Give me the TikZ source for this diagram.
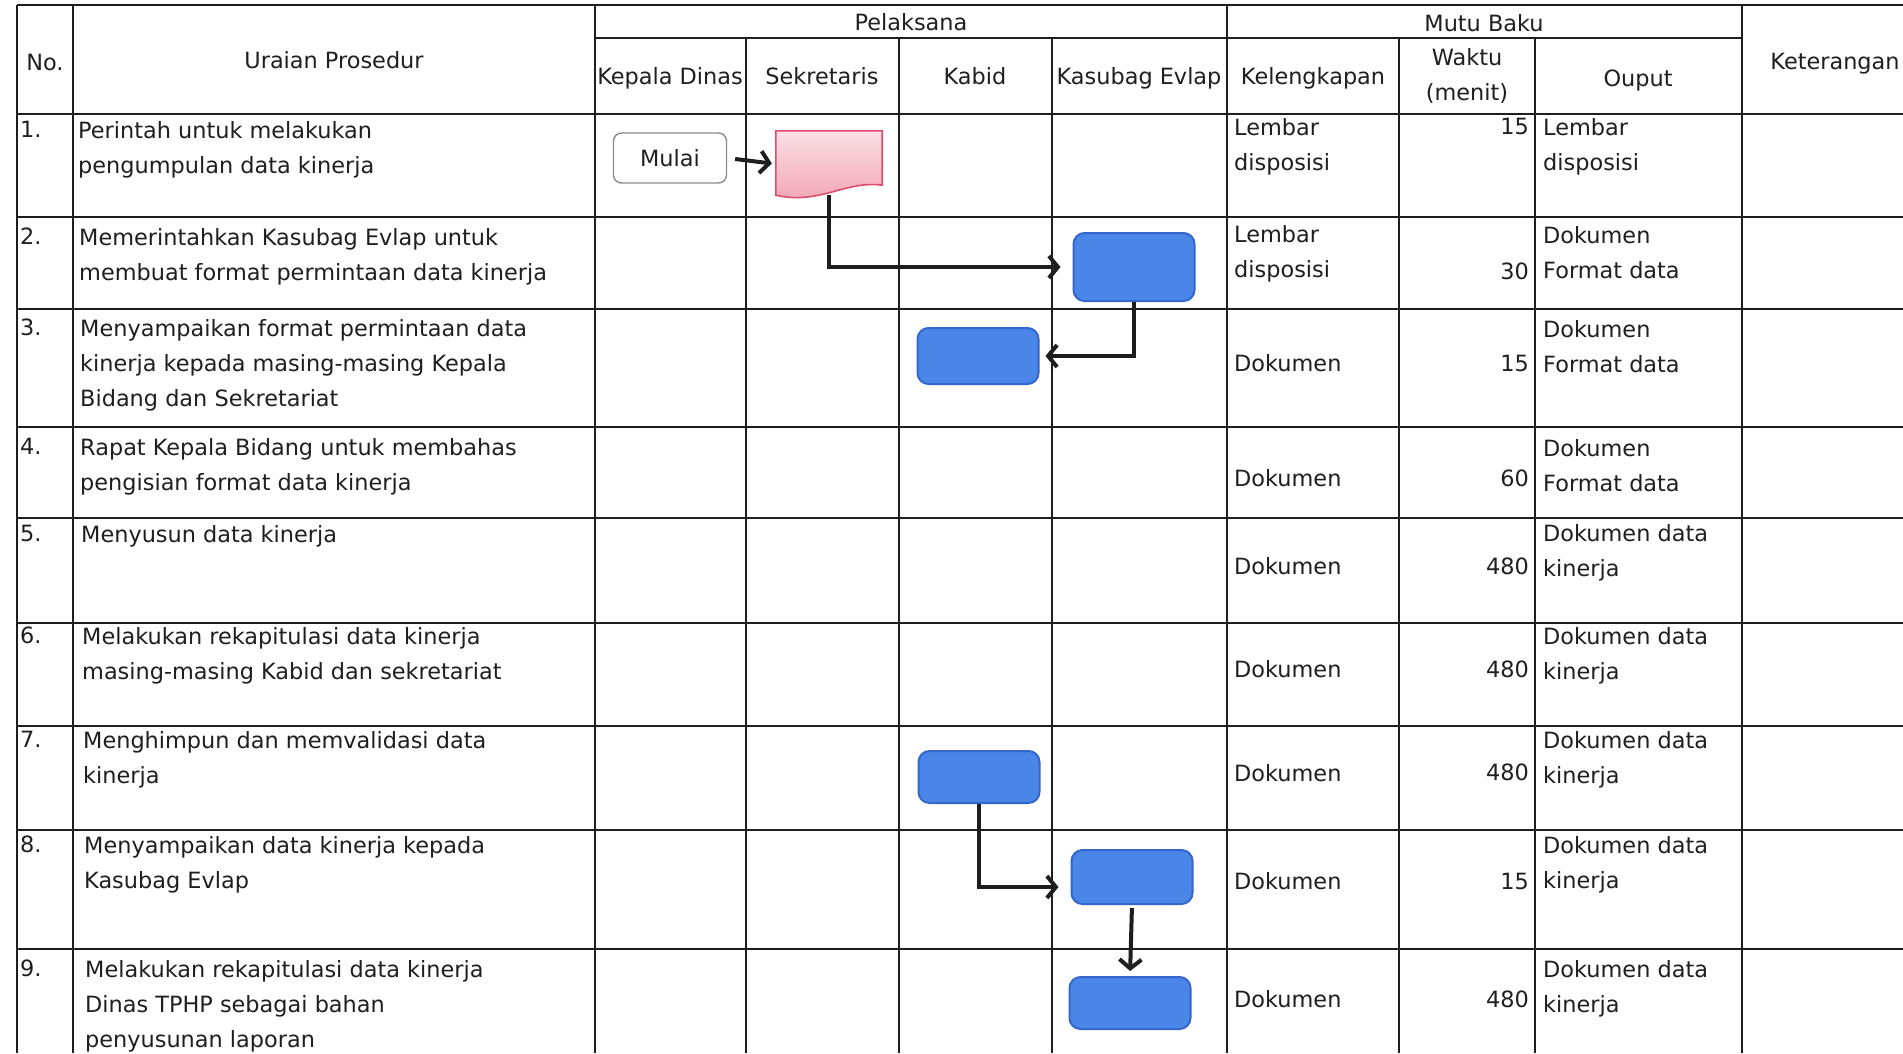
\documentclass[tikz,border=0pt]{standalone}
\usepackage{fontspec}
\setmainfont{DejaVu Sans}
\usepackage{tikz}
\usetikzlibrary{arrows.meta}
\usetikzlibrary{calc}

\definecolor{garis}{HTML}{1E1E1E}
\definecolor{prosesisi}{HTML}{4A86E8}
\definecolor{prosesgaris}{HTML}{3566CC}
\definecolor{dokatas}{HTML}{FBE0E6}
\definecolor{dokbawah}{HTML}{F2A2B2}
\definecolor{dokgaris}{HTML}{D94F6D}

\begin{document}
\begin{tikzpicture}[x=1pt,y=-1pt,
  every node/.style={font=\fontsize{22.4}{35}\selectfont,inner sep=0pt,text=black!88},
  isi/.style={anchor=north west,align=left},
  angka/.style={anchor=north east},
  judul/.style={anchor=north,align=center},
  tabel/.style={line width=2.4pt,garis},
  mulaibox/.style={draw=black!45,fill=white,rounded corners=8pt,line width=1.4pt,minimum width=113pt,minimum height=50pt},
  proses/.style={draw=prosesgaris,fill=prosesisi,rounded corners=11pt,line width=2pt,minimum width=121pt},
  alur/.style={line width=4pt,garis,-{Straight Barb[length=9pt,width=22pt]}}]
  \fill[white] (0,0) rectangle (1903,1053);
  \useasboundingbox (0,0) rectangle (1903,1053);

  \draw[tabel] (17,5) -- (1903,5);
  \draw[tabel] (595,38) -- (1742,38);
  \draw[tabel] (17,114) -- (1903,114);
  \draw[tabel] (17,217) -- (1903,217);
  \draw[tabel] (17,309) -- (1903,309);
  \draw[tabel] (17,427) -- (1903,427);
  \draw[tabel] (17,518) -- (1903,518);
  \draw[tabel] (17,623) -- (1903,623);
  \draw[tabel] (17,726) -- (1903,726);
  \draw[tabel] (17,830) -- (1903,830);
  \draw[tabel] (17,949) -- (1903,949);
  \draw[tabel] (17,5) -- (17,1053);
  \draw[tabel] (73,5) -- (73,1053);
  \draw[tabel] (595,5) -- (595,1053);
  \draw[tabel] (746,38) -- (746,1053);
  \draw[tabel] (899,38) -- (899,1053);
  \draw[tabel] (1052,38) -- (1052,1053);
  \draw[tabel] (1227,5) -- (1227,1053);
  \draw[tabel] (1399,38) -- (1399,1053);
  \draw[tabel] (1535,38) -- (1535,1053);
  \draw[tabel] (1742,5) -- (1742,1053);

  \node[judul] (hno) at (45,54) {No.};
  \node[judul] (hur) at (334,51) {Uraian Prosedur};
  \node[judul] (hpl) at (911,13) {Pelaksana};
  \node[judul] (hkd) at (670,67) {Kepala Dinas};
  \node[judul] (hsk) at (822,67) {Sekretaris};
  \node[judul] (hkb) at (975,67) {Kabid};
  \node[judul] (hks) at (1139,67) {Kasubag Evlap};
  \node[judul] (hmb) at (1484,14) {Mutu Baku};
  \node[judul] (hkl) at (1313,67) {Kelengkapan};
  \node[judul] (hwk) at (1467,48) {Waktu\\(menit)};
  \node[judul] (hou) at (1638,70) {Ouput};
  \node[judul] (hkt) at (1835,53) {Keterangan};

  \node[isi] (n1) at (20,121) {1.};
  \node[isi] (n2) at (20,228) {2.};
  \node[isi] (n3) at (20,319) {3.};
  \node[isi] (n4) at (20,438) {4.};
  \node[isi] (n5) at (20,525) {5.};
  \node[isi] (n6) at (20,627) {6.};
  \node[isi] (n7) at (20,731) {7.};
  \node[isi] (n8) at (20,836) {8.};
  \node[isi] (n9) at (20,960) {9.};

  \node[isi] (u1) at (78,121) {Perintah untuk melakukan\\pengumpulan data kinerja};
  \node[isi] (u2) at (79,228) {Memerintahkan Kasubag Evlap untuk\\membuat format permintaan data kinerja};
  \node[isi] (u3) at (80,319) {Menyampaikan format permintaan data\\kinerja kepada masing-masing Kepala\\Bidang dan Sekretariat};
  \node[isi] (u4) at (80,438) {Rapat Kepala Bidang untuk membahas\\pengisian format data kinerja};
  \node[isi] (u5) at (81,525) {Menyusun data kinerja};
  \node[isi] (u6) at (82,627) {Melakukan rekapitulasi data kinerja\\masing-masing Kabid dan sekretariat};
  \node[isi] (u7) at (83,731) {Menghimpun dan memvalidasi data\\kinerja};
  \node[isi] (u8) at (84,836) {Menyampaikan data kinerja kepada\\Kasubag Evlap};
  \node[isi] (u9) at (85,960) {Melakukan rekapitulasi data kinerja\\Dinas TPHP sebagai bahan\\penyusunan laporan};

  \node[isi] (k1) at (1234,118) {Lembar\\disposisi};
  \node[isi] (k2) at (1234,225) {Lembar\\disposisi};
  \node[isi] (k3) at (1234,354) {Dokumen};
  \node[isi] (k4) at (1234,469) {Dokumen};
  \node[isi] (k5) at (1234,557) {Dokumen};
  \node[isi] (k6) at (1234,660) {Dokumen};
  \node[isi] (k7) at (1234,764) {Dokumen};
  \node[isi] (k8) at (1234,872) {Dokumen};
  \node[isi] (k9) at (1234,990) {Dokumen};

  \node[angka] (w1) at (1529,118) {15};
  \node[angka] (w2) at (1529,263) {30};
  \node[angka] (w3) at (1529,355) {15};
  \node[angka] (w4) at (1529,470) {60};
  \node[angka] (w5) at (1529,558) {480};
  \node[angka] (w6) at (1529,661) {480};
  \node[angka] (w7) at (1529,764) {480};
  \node[angka] (w8) at (1529,873) {15};
  \node[angka] (w9) at (1529,991) {480};

  \node[isi] (o1) at (1543,118) {Lembar\\disposisi};
  \node[isi] (o2) at (1543,226) {Dokumen\\Format data};
  \node[isi] (o3) at (1543,320) {Dokumen\\Format data};
  \node[isi] (o4) at (1543,439) {Dokumen\\Format data};
  \node[isi] (o5) at (1543,524) {Dokumen data\\kinerja};
  \node[isi] (o6) at (1543,627) {Dokumen data\\kinerja};
  \node[isi] (o7) at (1543,731) {Dokumen data\\kinerja};
  \node[isi] (o8) at (1543,836) {Dokumen data\\kinerja};
  \node[isi] (o9) at (1543,960) {Dokumen data\\kinerja};

  \node[mulaibox] (mulai) at (670,158) {Mulai};
  \node[minimum width=106pt,minimum height=66pt] (dok) at (829,164) {};
  \draw[line width=1.6pt,draw=dokgaris,top color=dokatas,bottom color=dokbawah]
    (dok.north west) -- (dok.north east) -- ([yshift=12pt]dok.south east)
    .. controls ([xshift=-37pt,yshift=17pt]dok.south east) and ([xshift=44pt,yshift=-8pt]dok.south west) .. ([yshift=2pt]dok.south west) -- cycle;
  \node[proses,minimum height=68pt] (kas1) at (1134,267) {};
  \node[proses,minimum height=56pt] (kab1) at (978,356) {};
  \node[proses,minimum height=52pt] (kab2) at (979,777) {};
  \node[proses,minimum height=54pt] (kas2) at (1132,877) {};
  \node[proses,minimum height=52pt] (kas3) at (1130,1003) {};

  \draw[alur,shorten <=8pt,shorten >=4pt] (mulai.east) -- (dok.west);
  \draw[alur,shorten >=12pt] ([yshift=2pt]dok.south) |- (kas1.west);
  \draw[alur,shorten >=6pt] (kas1.south) |- (kab1.east);
  \draw[alur,shorten >=12pt] (kab2.south) |- ([yshift=-10pt]kas2.west);
  \draw[alur,shorten <=3pt,shorten >=5pt] (kas2.south) -- (kas3.north);
\end{tikzpicture}
\end{document}
